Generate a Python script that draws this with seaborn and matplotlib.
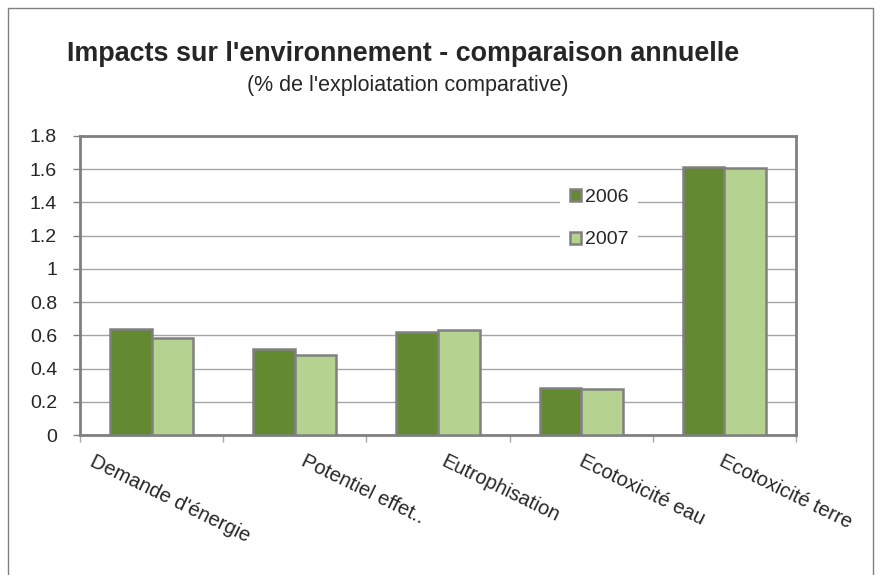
import numpy as np
import pandas as pd
import matplotlib
matplotlib.use("Agg")
import matplotlib.pyplot as plt
import matplotlib.transforms as mtransforms
import seaborn as sns

categories = ["Demande d'énergie", "Potentiel effet..", "Eutrophisation",
              "Ecotoxicité eau", "Ecotoxicité terre"]
years = ["2006", "2007"]
values_2006 = [0.64, 0.52, 0.62, 0.28, 1.615]
values_2007 = [0.585, 0.48, 0.63, 0.275, 1.61]
yticks = [0, 0.2, 0.4, 0.6, 0.8, 1, 1.2, 1.4, 1.6, 1.8]
ytick_labels = ["0", "0.2", "0.4", "0.6", "0.8", "1", "1.2", "1.4", "1.6", "1.8"]

df = pd.DataFrame({
    "categorie": categories * 2,
    "annee": [years[0]] * len(categories) + [years[1]] * len(categories),
    "valeur": values_2006 + values_2007,
})

sns.set_style("white")
plt.rcParams["font.family"] = ["Liberation Sans", "DejaVu Sans"]

W, H = 880, 575
fig = plt.figure(figsize=(W / 100, H / 100), dpi=100)
ax = fig.add_axes([80 / W, 1 - 435 / H, (796 - 80) / W, (435 - 136) / H])

palette = {"2006": "#648A31", "2007": "#B6D290"}
sns.barplot(data=df, x="categorie", y="valeur", hue="annee", palette=palette,
            width=0.58, edgecolor="#808080", linewidth=1.8, saturation=1,
            ax=ax, zorder=3)

ax.set_xlim(-0.5, len(categories) - 0.5)
ax.set_ylim(0, 1.8)
ax.set_yticks(yticks)
ax.set_yticklabels(ytick_labels, fontsize=14)
ax.set_xlabel("")
ax.set_ylabel("")
ax.yaxis.grid(True, color="#A6A6A6", linewidth=1, zorder=0)
ax.set_axisbelow(True)

for sp in ax.spines.values():
    sp.set_color("#808080")
    sp.set_linewidth(2)

ax.tick_params(axis="y", direction="out", length=5, width=1, color="#808080",
               pad=11.5, left=True)
ax.set_xticks(np.arange(-0.5, len(categories), 1), minor=True)
ax.tick_params(axis="x", which="minor", direction="out", length=5, width=1,
               color="#A6A6A6", bottom=True)
ax.tick_params(axis="x", which="major", length=0, pad=12)
ax.set_xticks(range(len(categories)))
ax.set_xticklabels(categories, rotation=-26, ha="left", va="top",
                   rotation_mode="anchor", fontsize=14.5)
# label shifts (px) to match the original placement
offsets = [-56, 12, 9, 3, 0]
for lab, dx in zip(ax.get_xticklabels(), offsets):
    off = mtransforms.ScaledTranslation(dx / 100, 0, fig.dpi_scale_trans)
    lab.set_transform(lab.get_transform() + off)

leg = ax.legend(loc="upper left", bbox_to_anchor=(560 / W, 1 - 179 / H),
                bbox_transform=fig.transFigure, borderaxespad=0,
                frameon=True, facecolor="white", edgecolor="none", framealpha=1,
                fancybox=False, fontsize=14, handlelength=0.57,
                handleheight=0.57, handletextpad=0.2, labelspacing=1.32,
                borderpad=0.5, title=None)
leg.set_zorder(5)

fig.text(403 / W, 1 - 61 / H, "Impacts sur l'environnement - comparaison annuelle",
         ha="center", va="baseline", fontsize=19.4, fontweight="bold")
fig.text(408 / W, 1 - 91 / H, "(% de l'exploiatation comparative)",
         ha="center", va="baseline", fontsize=15.5)

# outer chart border
fig.add_artist(plt.Line2D([8 / W, 8 / W, 873 / W, 873 / W],
                          [0, 1 - 8 / H, 1 - 8 / H, 0],
                          transform=fig.transFigure, color="#808080", lw=1))

fig.savefig("out.png", dpi=100)
